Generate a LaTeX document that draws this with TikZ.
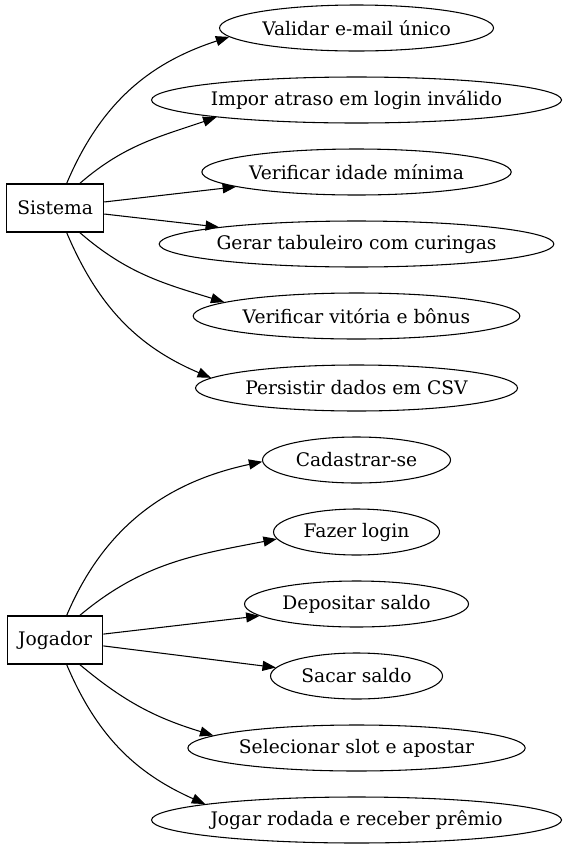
\documentclass[tikz,border=0pt]{standalone}
\usepackage{fontspec}
\setmainfont{DejaVu Serif}
\usepackage{tikz}
\usetikzlibrary{arrows.meta, shapes.geometric, positioning}

\tikzset{
    actor/.style = {draw, rectangle, font=\fontsize{14pt}{17pt}\selectfont,
                    inner xsep=8pt, minimum height=36pt},
    usecase/.style = {draw, ellipse, font=\fontsize{14pt}{17pt}\selectfont,
                      inner xsep=-3pt, inner ysep=0pt,
                      minimum height=34.5pt, minimum width=#1}
}

\begin{document}
\begin{tikzpicture}[
            ->,
            > = {Triangle[length=10pt, width=7.5pt]},
            node distance = 54pt,
            on grid,
            line width = 0.8pt
        ]

        \useasboundingbox (0,0) rectangle (424.5pt,-638.25pt);

        % casos de uso
        \node[usecase=205.5pt] (validar) at (267.4pt,-21pt) {Validar e-mail único};
        \node[usecase=307.5pt, below=of validar] (atraso) {Impor atraso em login inválido};
        \node[usecase=232pt, below=of atraso] (idade) {Verificar idade mínima};
        \node[usecase=296pt, below=of idade] (tabuleiro) {Gerar tabuleiro com curingas};
        \node[usecase=245pt, below=of tabuleiro] (vitoria) {Verificar vitória e bônus};
        \node[usecase=241.5pt, below=of vitoria] (csv) {Persistir dados em CSV};
        \node[usecase=141pt, below=of csv] (cadastro) {Cadastrar-se};
        \node[usecase=124.5pt, below=of cadastro] (login) {Fazer login};
        \node[usecase=168pt, below=of login] (deposito) {Depositar saldo};
        \node[usecase=129pt, below=of deposito] (saque) {Sacar saldo};
        \node[usecase=253pt, below=of saque] (aposta) {Selecionar slot e apostar};
        \node[usecase=307.5pt, below=of aposta] (rodada) {Jogar rodada e receber prêmio};

        % atores
        \coordinate[below=27pt of idade] (meio1);
        \coordinate[below=27pt of deposito] (meio2);
        \node[actor, left=226pt of meio1, anchor=center] (sistema) {Sistema};
        \node[actor, left=226pt of meio2, anchor=center] (jogador) {Jogador};

        \path (sistema.65)  edge[out=67, in=198]  (validar.184)
              (sistema.45)  edge[out=41, in=199]  (atraso.187)
              (sistema.7)   edge                  (idade.187)
              (sistema.-7)  edge                  (tabuleiro.173)
              (sistema.-45) edge[out=-41, in=163] (vitoria.174)
              (sistema.-65) edge[out=-67, in=157] (csv.176);

        \path (jogador.65)  edge[out=67, in=192]  (cadastro.181)
              (jogador.45)  edge[out=40, in=191]  (login.185)
              (jogador.7)   edge                  (deposito.187)
              (jogador.-7)  edge                  (saque.174)
              (jogador.-45) edge[out=-40, in=163] (aposta.175)
              (jogador.-65) edge[out=-67, in=156] (rodada.174);
    \end{tikzpicture}
\end{document}
